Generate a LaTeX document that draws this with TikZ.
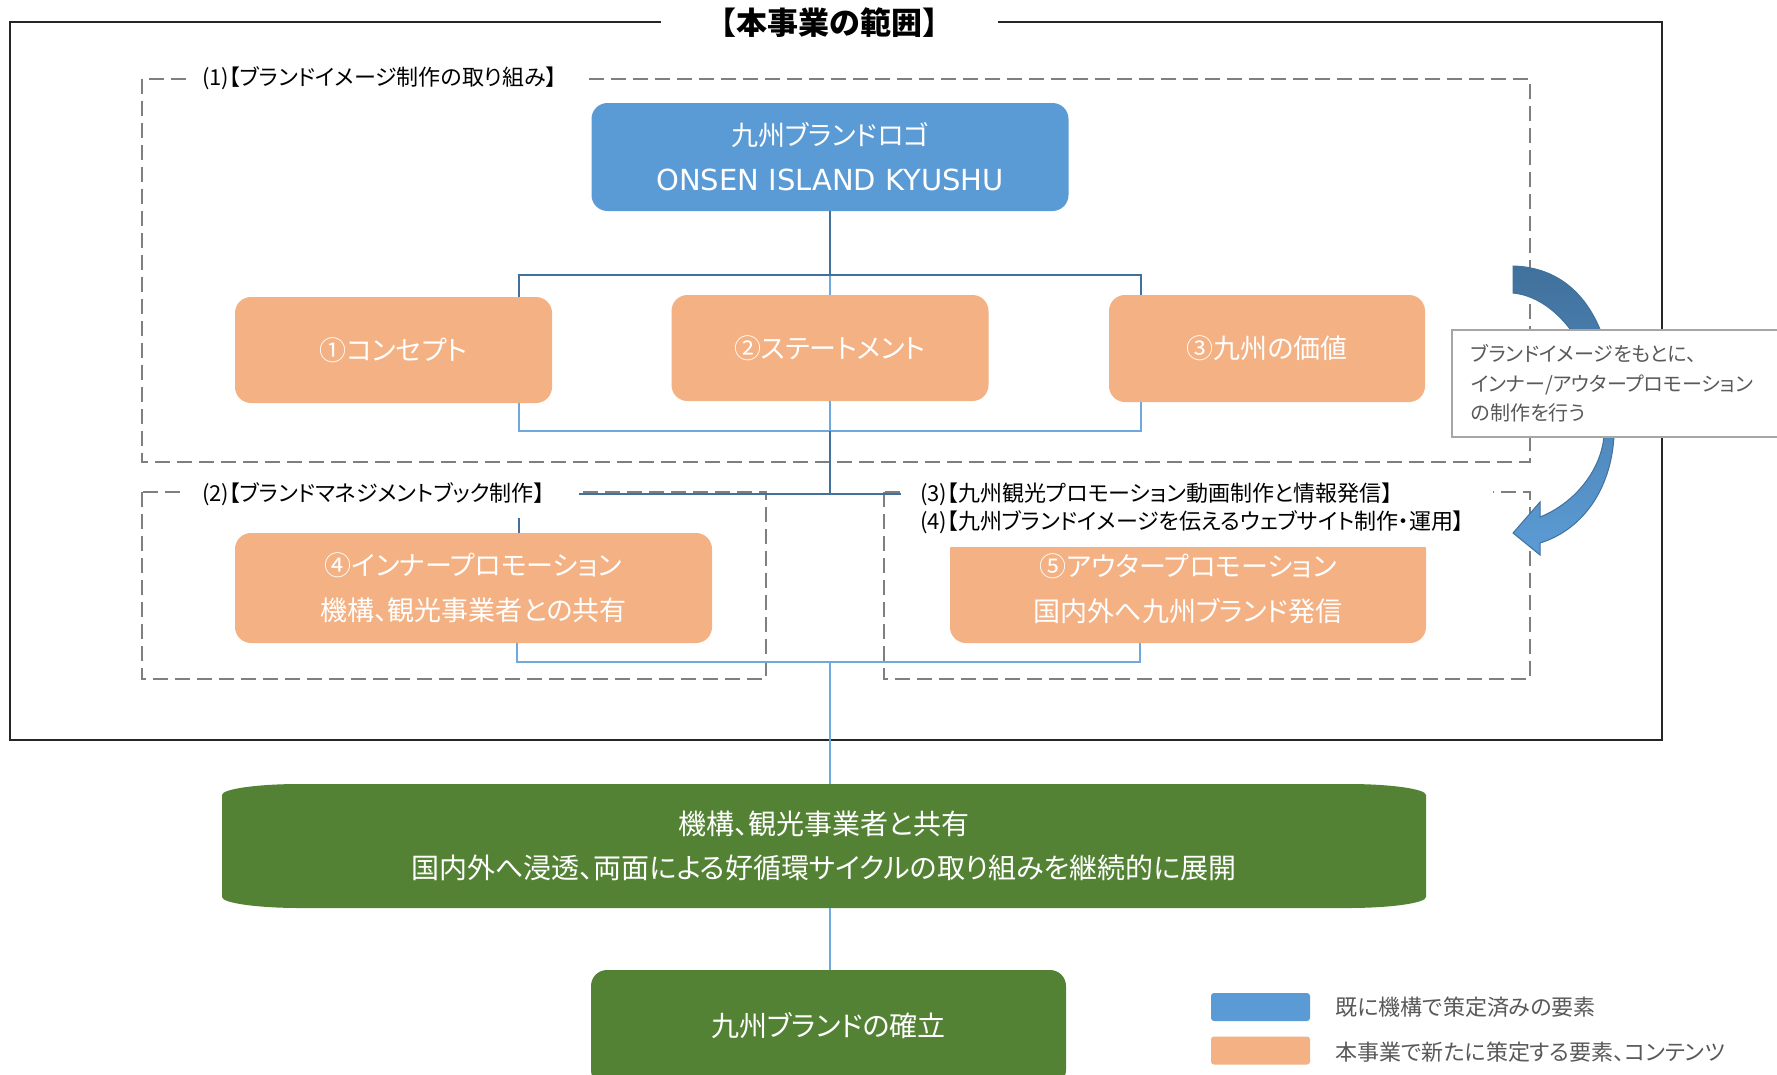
\documentclass[tikz,border=0pt]{standalone}
\usepackage{fontspec}
\setmainfont{Noto Sans CJK JP}[RawFeature=+palt]
\newfontfamily\jpfull{Noto Sans CJK JP}
\newfontfamily\latinfont{DejaVu Sans}
\usetikzlibrary{calc}
\definecolor{logoblue}{HTML}{5B9BD5}
\definecolor{darkblue}{HTML}{41719C}
\definecolor{lightline}{HTML}{6FA8DC}
\definecolor{orangefill}{HTML}{F4B183}
\definecolor{greenfill}{HTML}{548235}
\definecolor{dashgray}{HTML}{7F7F7F}
\definecolor{framegray}{HTML}{262626}
\definecolor{textgray}{HTML}{595959}
\definecolor{calloutborder}{HTML}{A6A6A6}
\newcommand\fsz[2]{\fontsize{#1}{#2}\selectfont}
\begin{document}
\begin{tikzpicture}[x=1pt,y=-1pt,
  basebox/.style={rounded corners=16pt, inner sep=0pt, text=white, align=center},
  orangenode/.style={basebox, fill=orangefill, font=\fsz{27}{45}},
  greennode/.style={inner sep=0pt, text=white, align=center, font=\fsz{28}{44}},
  dashbox/.style={draw=dashgray, line width=2.5pt, dash pattern=on 15pt off 7pt},
  thickline/.style={draw=darkblue, line width=2.5pt},
  thinline/.style={draw=lightline, line width=1.5pt},
  labelbg/.style={fill=white, anchor=west, inner xsep=16pt, inner ysep=0pt, align=left, text=black, font=\fsz{22}{28}},
  legendbox/.style={rounded corners=3pt, minimum width=99pt, minimum height=28pt, inner sep=0pt},
  legendtext/.style={anchor=west, text=textgray, font=\fsz{22}{28}}
]
\useasboundingbox (0,0) rectangle (1777,1074);
\fill[white] (0,0) rectangle (1777,1074);

% outer frame
\draw[framegray, line width=2.5pt] (10,22) rectangle (1662,740);

% dashed group boxes
\draw[dashbox] (142,79) rectangle (1530,462);
\draw[dashbox] (142,492) rectangle (766,679);
\draw[dashbox] (884,492) rectangle (1530,679);

% nodes
\node[basebox, fill=logoblue, minimum width=477pt, minimum height=108pt, font=\fsz{27}{45}] (logo) at (830,157)
  {九州ブランドロゴ\\{\latinfont\fsz{29}{45}ONSEN ISLAND KYUSHU}};
\node[orangenode, minimum width=317pt, minimum height=106pt] (c1) at (393.5,350) {①コンセプト};
\node[orangenode, minimum width=317pt, minimum height=106pt] (c2) at (830,348) {②ステートメント};
\node[orangenode, minimum width=316pt, minimum height=107pt] (c3) at (1267,348.5) {③九州の価値};
\node[orangenode, minimum width=477pt, minimum height=110pt] (c4) at (473.5,588) {④インナープロモーション\\機構、観光事業者との共有};
\node[orangenode, minimum width=476pt, minimum height=109pt] (c5) at (1188,588.5) {⑤アウタープロモーション\\国内外へ九州ブランド発信};

% green boxes
\fill[greenfill] (222,795) -- (222,897) .. controls (222,903) and (257,908) .. (300,908)
  -- (1348,908) .. controls (1391,908) and (1426,903) .. (1426,897)
  -- (1426,795) .. controls (1426,789) and (1391,784) .. (1348,784)
  -- (300,784) .. controls (257,784) and (222,789) .. (222,795) -- cycle;
\node[greennode, minimum width=1204pt, minimum height=124pt] (g1) at (824,846)
  {機構、観光事業者と共有\\国内外へ浸透、両面による好循環サイクルの取り組みを継続的に展開};
\node[basebox, fill=greenfill, minimum width=475pt, minimum height=116pt, font=\fsz{28}{44}] (g2) at (828.5,1028) {\raisebox{7pt}{九州ブランドの確立}};

% connector coordinates
\coordinate (xA) at (519,0);
\coordinate (xB) at (1141,0);
\coordinate (xC) at (517,0);
\coordinate (xD) at (1140,0);
\coordinate (xE) at (1188,0);
\coordinate (j1) at (830,275);
\coordinate (j2) at (830,431);
\coordinate (j3) at (830,494);
\coordinate (j4) at (830,662);

% connectors
\draw[thinline] (j1) -- (c2.north);
\draw[thickline] (logo.south) -- (j1);
\draw[thickline] (j1) -| (xA |- c1.north);
\draw[thickline] (j1) -| (xB |- c3.north);
\draw[thinline] (xA |- c1.south) |- (j2) -| (xB |- c3.south);
\draw[thinline] (c2.south) -- (j2);
\draw[thickline] (j2) -- (j3);
\draw[thickline] (j3) -| (xA |- c4.north);
\draw[thickline] (j3) -| (xE |- c5.north);
\draw[thinline] (xC |- c4.south) |- (j4) -| (xD |- c5.south);
\draw[thinline] (j4) -- (j4 |- g1.north);
\draw[thinline] (j4 |- g1.south) -- (j4 |- g2.north);

% group labels (white background hides lines behind)
\node[labelbg, text width=367pt, minimum height=30pt] (lab1) at (186,78) {(1)【ブランドイメージ制作の取り組み】};
\node[labelbg, text width=361pt, minimum height=48pt] (lab2) at (186,494) {(2)【ブランドマネジメントブック制作】};
\node[labelbg, inner xsep=19pt, text width=554pt, minimum height=78pt] (lab3) at (901,508)
  {(3)【九州観光プロモーション動画制作と情報発信】\\(4)【九州ブランドイメージを伝えるウェブサイト制作・運用】};

% curved arrow
\shade[top color=darkblue, bottom color=logoblue, draw=darkblue, line width=1pt]
  (1513,266) .. controls (1588,268) and (1620,342) .. (1614,436)
  .. controls (1611,490) and (1582,530) .. (1540,543)
  -- (1540,555) -- (1513,533) -- (1540,502) -- (1540,517)
  .. controls (1575,503) and (1601,470) .. (1604,436)
  .. controls (1606,370) and (1565,298) .. (1513,293) -- cycle;

% callout
\node[draw=calloutborder, line width=2pt, fill=white, anchor=north west, minimum height=107pt,
  inner xsep=19pt, inner ysep=0pt, text width=322pt, align=left, text=textgray, font=\fsz{20}{29.5}] (callout) at (1451,329)
  {ブランドイメージをもとに、\\インナー/アウタープロモーション\\の制作を行う};

% title
\node[fill=white, minimum width=337pt, minimum height=34pt, inner sep=0pt, font=\jpfull\bfseries\fsz{31}{36}] (title) at (829.5,23) {【本事業の範囲】};

% legend
\node[legendbox, fill=logoblue] (leg1) at (1260.5,1007) {};
\node[legendbox, fill=orangefill] (leg2) at (1260.5,1050.5) {};
\node[legendtext] (legt1) at (1332,1007) {既に機構で策定済みの要素};
\node[legendtext] (legt2) at (1332,1052) {本事業で新たに策定する要素、コンテンツ};
\end{tikzpicture}
\end{document}
